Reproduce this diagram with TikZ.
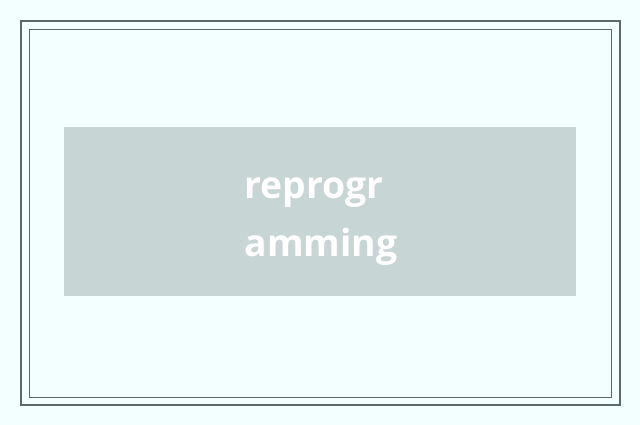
\documentclass[tikz,border=0pt]{standalone}
\usepackage{fontspec}
\setmainfont{Open Sans}
\definecolor{pagebg}{HTML}{F3FFFF}
\definecolor{frameline}{HTML}{5A6A6A}
\definecolor{boxfill}{HTML}{C8D5D5}
\begin{document}
\begin{tikzpicture}[
    x=0.75pt, y=-0.75pt,
    frame/.style={draw=frameline, line width=1pt},
    label/.style={text=white, font=\fontsize{28}{43.5}\selectfont\bfseries, align=left}
]
% Hintergrund
\fill[pagebg] (0,0) rectangle (640,425);
\useasboundingbox (0,0) rectangle (640,425);

% Rahmen
\draw[frame, line width=1.3pt] (21,21) rectangle (620,405);
\draw[frame, line width=0.6pt] (29,29) rectangle (611,397);

% Kasten
\fill[boxfill] (64,127) rectangle (576,296);
\node[label] (word) at (321,222) {reprogr\\amming};

\end{tikzpicture}
\end{document}
